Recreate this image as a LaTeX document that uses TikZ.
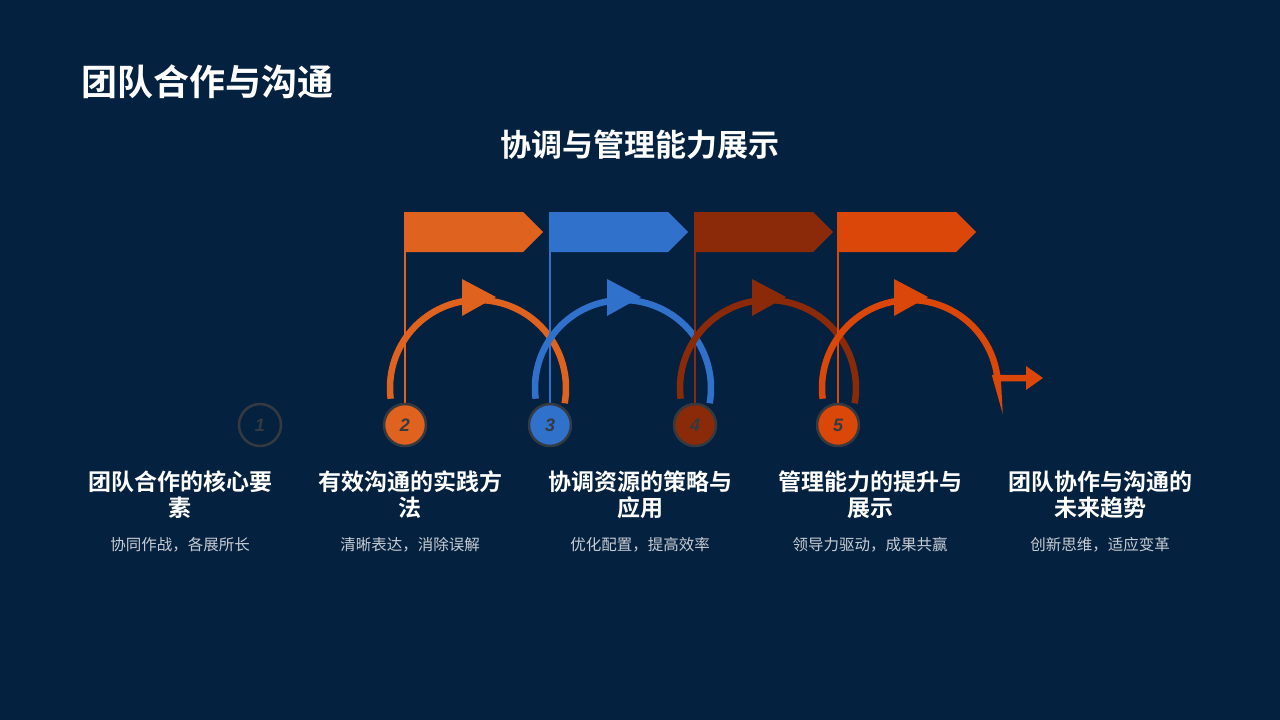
\documentclass[tikz,border=0pt]{standalone}
\usepackage{fontspec}
\setmainfont{Noto Sans CJK SC}
\newfontfamily\cjkb{Noto Sans CJK SC Bold}
\newfontfamily\numf{Liberation Sans}
\definecolor{bg}{HTML}{04213F}
\definecolor{cA}{HTML}{E0621F}
\definecolor{cB}{HTML}{3071CC}
\definecolor{cC}{HTML}{8A2A08}
\definecolor{cD}{HTML}{DA4709}
\definecolor{ring}{HTML}{353A40}
\definecolor{sub}{HTML}{C8CDD4}
\begin{document}
\begin{tikzpicture}[x=1pt,y=-1pt,
  numc/.style={circle,draw=ring,line width=2.5pt,minimum size=42pt,inner sep=0pt,font=\numf\bfseries\itshape\fontsize{18}{18}\selectfont,text=ring},
  head/.style={text=white,font=\cjkb\fontsize{23}{26}\selectfont,align=center,text width=210pt},
  subt/.style={text=sub,font=\fontsize{15.5}{17}\selectfont}]
\fill[bg] (0,0) rectangle (1280,720);
\node[anchor=west,text=white,font=\cjkb\fontsize{36}{38}\selectfont] (t) at (78,82) {团队合作与沟通};
\node[text=white,font=\cjkb\fontsize{31}{33}\selectfont] (st) at (640,145) {协调与管理能力展示};
% arcs
\foreach \cx/\c in {478/cA,623/cB,768/cC}{
  \draw[\c,line width=6.5pt] ({\cx+88*cos(173)},{388+88*sin(173)}) arc[start angle=173,end angle=370,radius=88];
  \fill[\c] (\cx-16,279) -- (\cx-16,316) -- (\cx+18,297) -- cycle;
}
\coordinate (e5) at (1030,378);
\draw[cD,line width=6.5pt] ({910+88*cos(173)},{388+88*sin(173)}) arc[start angle=173,end angle=358,radius=88] -- (996,378) -- (e5);
\fill[cD] (1026,366) -- (1026,390) -- (1043,378) -- cycle;
\fill[cD] (894,279) -- (894,316) -- (928,297) -- cycle;
% poles, flags
\foreach \x/\c in {405/cA,550/cB,695/cC,838/cD}{
  \draw[\c,line width=1.5pt] (\x,404) -- (\x,212);
  \fill[\c] (\x,212) -- (\x+118,212) -- (\x+138,232) -- (\x+118,252) -- (\x,252) -- cycle;
}
% circles
\node[numc] (n1) at (260,425) {1};
\node[numc,fill=cA] (n2) at (405,425) {2};
\node[numc,fill=cB] (n3) at (550,425) {3};
\node[numc,fill=cC] (n4) at (695,425) {4};
\node[numc,fill=cD] (n5) at (838,425) {5};
% labels
\node[head] (h1) at (180,495) {团队合作的核心要\\素};
\node[head] (h2) at (410,495) {有效沟通的实践方\\法};
\node[head] (h3) at (640,495) {协调资源的策略与\\应用};
\node[head] (h4) at (870,495) {管理能力的提升与\\展示};
\node[head] (h5) at (1100,495) {团队协作与沟通的\\未来趋势};
\node[subt] (s1) at (180,545) {协同作战，各展所长};
\node[subt] (s2) at (410,545) {清晰表达，消除误解};
\node[subt] (s3) at (640,545) {优化配置，提高效率};
\node[subt] (s4) at (870,545) {领导力驱动，成果共赢};
\node[subt] (s5) at (1100,545) {创新思维，适应变革};
\end{tikzpicture}
\end{document}
